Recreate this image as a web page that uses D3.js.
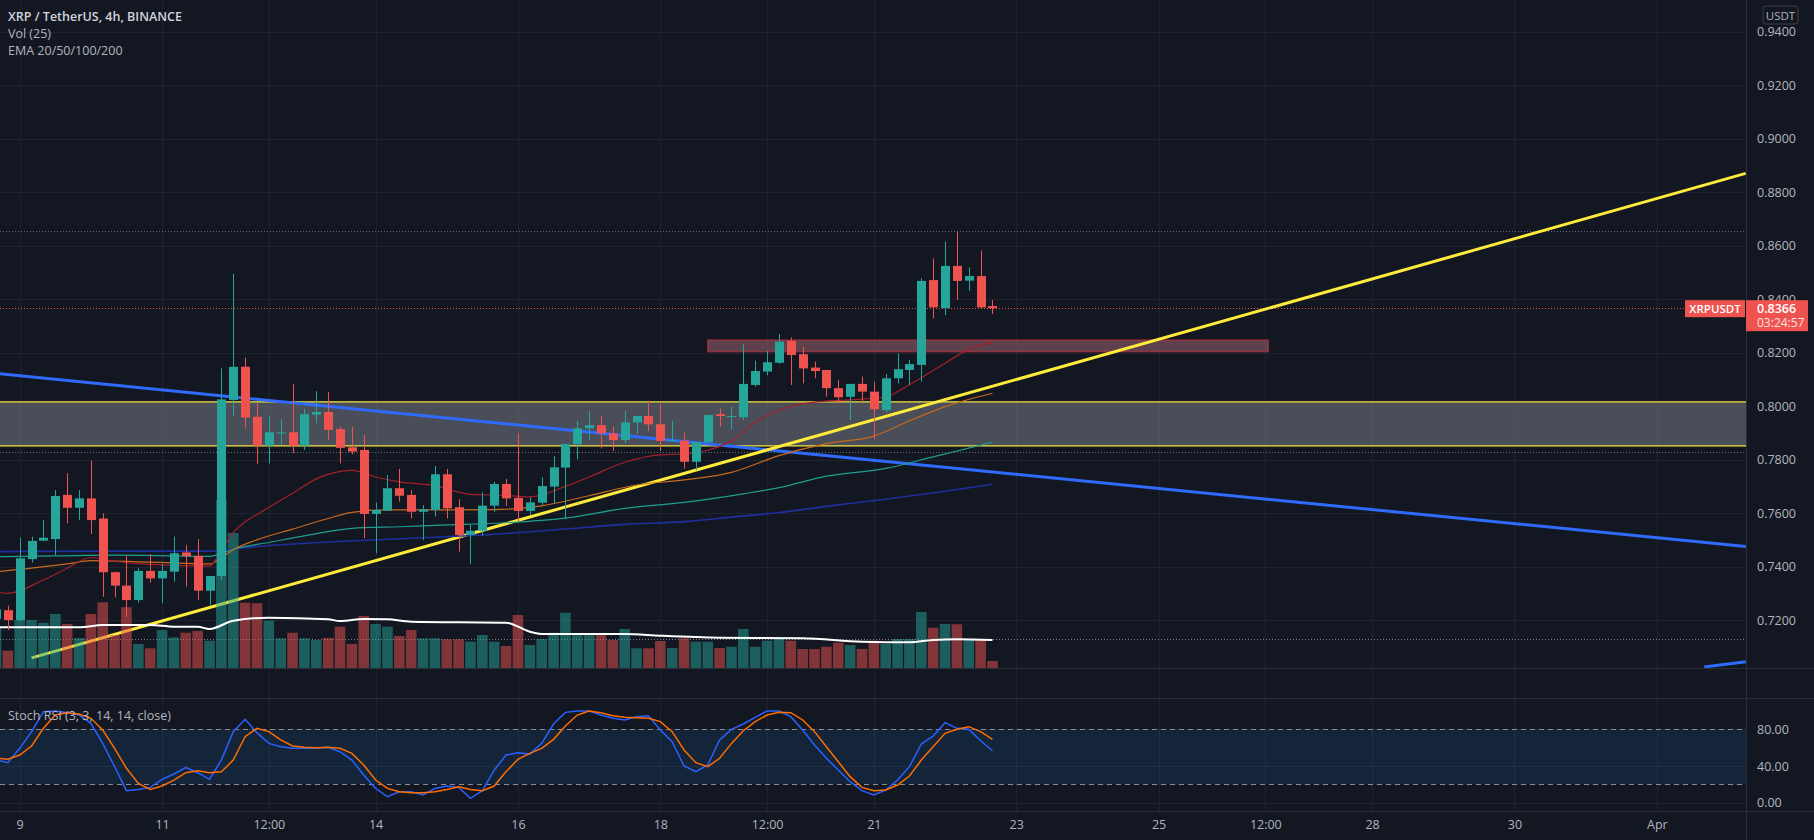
<!DOCTYPE html>
<html>
<head>
<meta charset="utf-8">
<script src="https://cdn.jsdelivr.net/npm/d3@7"></script>
<style>
  html, body { margin: 0; padding: 0; background: #131722; overflow: hidden; }
  svg { display: block; font-family: "Open Sans", sans-serif; }
</style>
</head>
<body>
<div id="chart"></div>
<script>
// ---- data (XRP/USDT 4h, first bar 2022-03-08 16:00 UTC) ----
const firstBar = '2022-03-08T16:00:00Z';
const opens  = [.7205,.7237,.7200,.7428,.7497,.7503,.7668,.7620,.7655,.7580,.7379,.7329,.7275,.7384,.7356,.7381,.7453,.7440,.7310,.7365,
  .8023,.8147,.7960,.7852,.7898,.7902,.7852,.7968,.7978,.7914,.7846,.7836,.7597,.7609,.7693,.7668,.7605,.7612,.7745,.7622,
  .7518,.7534,.7628,.7709,.7657,.7608,.7639,.7699,.7770,.7857,.7917,.7929,.7898,.7873,.7939,.7963,.7932,.7870,.7871,.7792,
  .7865,.7970,.7960,.7958,.8079,.8129,.8162,.8244,.8194,.8144,.8135,.8067,.8035,.8083,.8054,.7985,.8104,.8135,.8154,.8471,
  .8366,.8524,.8469,.8486,.8374];
const highs  = [.7250,.7254,.7508,.7512,.7574,.7686,.7749,.7686,.7796,.7599,.7382,.7441,.7394,.7447,.7410,.7512,.7481,.7503,.7365,.8141,
  .8494,.8181,.8010,.7963,.7951,.8082,.7989,.8056,.8052,.7923,.7923,.7892,.7639,.7742,.7765,.7686,.7630,.7776,.7765,.7652,
  .7556,.7678,.7717,.7728,.7898,.7659,.7734,.7813,.7858,.7944,.7982,.7963,.7923,.7983,.7963,.8020,.8008,.7945,.7901,.7866,
  .7967,.7992,.7998,.8232,.8170,.8206,.8270,.8257,.8222,.8166,.8135,.8098,.8083,.8110,.8091,.8120,.8197,.8172,.8478,.8552,
  .8615,.8655,.8519,.8581,.8397];
const lows   = [.7190,.7163,.7195,.7415,.7495,.7443,.7562,.7574,.7522,.7287,.7285,.7213,.7265,.7340,.7263,.7344,.7325,.7275,.7256,.7350,
  .7963,.7917,.7784,.7786,.7855,.7824,.7836,.7936,.7873,.7786,.7820,.7506,.7450,.7609,.7643,.7580,.7499,.7587,.7580,.7456,
  .7410,.7516,.7605,.7627,.7568,.7593,.7630,.7637,.7577,.7801,.7873,.7842,.7832,.7861,.7896,.7907,.7832,.7868,.7767,.7761,
  .7862,.7923,.7913,.7948,.8073,.8116,.8158,.8079,.8085,.8104,.8035,.8010,.7948,.8010,.7876,.7975,.8085,.8079,.8091,.8328,
  .8340,.8397,.8431,.8366,.8344];
const closes = [.7240,.7200,.7431,.7496,.7508,.7664,.7620,.7655,.7574,.7379,.7329,.7275,.7384,.7356,.7384,.7450,.7439,.7310,.7365,.8025,
  .8147,.7957,.7852,.7902,.7902,.7852,.7970,.7978,.7911,.7844,.7830,.7597,.7612,.7693,.7665,.7605,.7614,.7745,.7618,.7518,
  .7534,.7628,.7709,.7655,.7608,.7640,.7701,.7771,.7858,.7917,.7929,.7898,.7873,.7939,.7963,.7932,.7870,.7873,.7792,.7865,
  .7967,.7963,.7963,.8083,.8131,.8164,.8241,.8191,.8141,.8131,.8067,.8033,.8083,.8054,.7988,.8104,.8138,.8157,.8468,.8369,
  .8524,.8468,.8486,.8369,.8366];
const volumes = [40,17.3,48,48,45.3,54,44,30,54,65.7,33,60.7,24,19.7,38,30.7,35.3,37,27.3,168,
  135,65.3,64.7,47.3,29.7,35.3,29.7,28,30,41.3,24,52,44,41.3,32,38,29.7,29.7,28.7,28.7,
  26.3,33,26.3,22,53,23,29,35.3,55.3,33,33,33,28,39,19.7,19.7,27,20,29.7,26.3,
  26.3,20,21.3,39,21.3,27.3,29,27.3,19,19,21.3,25.3,23,19,27.3,24,29,29,56,40.3,
  44,43.7,29,29,7];
// [bar index, value]
const volMA  = [[0,40.7],[7,40.7],[9,43],[13,43],[15,41.3],[17,41.3],[18,39],[20,47.3],[23,50.3],[28,48.7],[29,47],[31,49],[33,48.7],
  [35,46.3],[43,45.3],[45,36.3],[46,34],[53,34],[56,32.3],[61,30.3],[68,29.7],[73,26.3],[77,25.7],[79,28],[81,28.7],[84,28]];
const ema20  = [[0,.7306],[1,.7300],[4,.7350],[6,.7394],[8,.7434],[10,.7420],[13,.7408],[18,.7402],[19,.7461],[20,.7527],[21,.7568],
  [22,.7595],[25,.7674],[27,.7728],[30,.7760],[32,.7735],[34,.7717],[37,.7703],[40,.7670],[43,.7666],[45,.7661],[48,.7700],[50,.7735],
  [53,.7790],[56,.7818],[58,.7821],[60,.7835],[62,.7870],[64,.7940],[66,.7985],[69,.8015],[72,.8023],[75,.8035],[77,.8080],[80,.8160],
  [82,.8212],[84,.8240]];
const ema50  = [[0,.7381],[3,.7394],[6,.7410],[8,.7422],[12,.7418],[15,.7414],[18,.7410],[19,.7433],[20,.7463],[22,.7500],[25,.7540],
  [28,.7580],[30,.7603],[33,.7612],[38,.7612],[42,.7613],[46,.7627],[50,.7665],[54,.7705],[58,.7724],[62,.7752],[66,.7815],[70,.7860],
  [74,.7888],[77,.7945],[80,.7998],[84,.8048]];
const ema100 = [[0,.7437],[5,.7440],[10,.7443],[15,.7440],[18,.7438],[19,.7450],[20,.7465],[23,.7490],[26,.7515],[30,.7543],[34,.7549],
  [38,.7556],[42,.7562],[48,.7581],[53,.7618],[58,.7640],[63,.7672],[66,.7695],[70,.7738],[75,.7767],[79,.7810],[84,.7865]];
const ema200 = [[0,.7456],[10,.7458],[18,.7458],[22,.7475],[28,.7492],[35,.7506],[41,.7518],[47,.7537],[53,.7558],[58,.7568],[62,.7585],
  [66,.7602],[70,.7625],[75,.7652],[80,.7682],[84,.7708]];
const stochK = [47,43.6,59.3,77.5,99.3,100,98,95.6,86.5,64.7,39.3,13.1,14.5,16.7,25.5,31.3,38.2,32.7,25.5,46.5,
  77.5,90.9,76.4,64.7,61.1,59.3,59.3,59.3,60.4,55.6,46.5,30.2,15.6,6.5,12,12,8.4,15.6,18.2,16.7,
  4.7,13.1,35.6,52,54.5,53,64.7,85.8,98.5,100,100,95.6,92,90.2,93.8,94.9,79.3,66.5,40,33.8,
  41.1,68.4,80,85.8,93.1,100,100,93.8,79.3,62.9,48.4,35.6,22.9,13.1,8.4,13.8,24.7,39.3,64,72.7,
  87.3,81.1,80,67.6,56.7];
const stochD = [48.8,47.3,52,61.8,81.1,95.6,98,96.7,92,79.3,59.3,37.5,21.1,14.5,18.2,24.7,32.7,34.9,32.7,33.8,
  46.5,72,81.1,77.5,68.4,61.8,60.4,60,60.4,59.3,53.8,41.1,24.7,15.6,12,10.9,10.9,12,14.5,17.5,
  14.5,13.1,18.2,34,47.3,53.8,59.3,69.1,83.6,95.6,100,98.2,94.9,93.1,92.7,92,88.4,77.5,57.5,43.6,
  39.3,48.4,64.7,78.5,88.4,95.6,98.5,98.2,90.2,77.5,61.1,44.7,28.4,16.7,13.1,13.8,19.3,29.1,46.5,61.1,
  75.6,80,82.9,77.5,69.1];

// drawings
const yellowTrend = [['2022-03-09T04:00:00Z', .7059], ['2022-04-02T06:00:00Z', .8870]];
const blueTrend   = [['2022-03-08T16:00:00Z', .8122], ['2022-04-02T06:00:00Z', .7475]];
const blueTrend2  = [['2022-04-01T16:00:00Z', .7025], ['2022-04-02T06:00:00Z', .7044]];
const grayZone = {from: '2022-03-01T00:00:00Z', to: '2022-04-05T00:00:00Z', top: .8016, bottom: .7851};
const redZone  = {from: '2022-03-18T16:00:00Z', to: '2022-03-26T13:00:00Z', top: .8247, bottom: .8203};
const dottedLevels = [[.8655, '#5b6a8a'], [.8366, '#ef5350'], [.7830, '#6a6d78'], [.7130, '#7d808a']];

const priceTicks = [.72,.74,.76,.78,.80,.82,.84,.86,.88,.90,.92,.94];
const stochTicks = [0, 40, 80];
const timeTicks = ['2022-03-09T00:00:00Z','2022-03-11T00:00:00Z','2022-03-12T12:00:00Z','2022-03-14T00:00:00Z','2022-03-16T00:00:00Z',
  '2022-03-18T00:00:00Z','2022-03-19T12:00:00Z','2022-03-21T00:00:00Z','2022-03-23T00:00:00Z','2022-03-25T00:00:00Z',
  '2022-03-26T12:00:00Z','2022-03-28T00:00:00Z','2022-03-30T00:00:00Z','2022-04-01T00:00:00Z'];
const timeLabels = ['9','11','12:00','14','16','18','12:00','21','23','25','12:00','28','30','Apr'];

// ---- layout ----
const W = 1814, H = 840;
const plotR = 1746, mainB = 668, emptyB = 698, stochB = 811;
const up = '#26a69a', down = '#ef5350';

const t0 = new Date(firstBar).getTime();
const barTime = i => new Date(t0 + i * 4 * 3600 * 1000);

const x = d3.scaleUtc()
  .domain([new Date('2022-03-09T00:00:00Z'), new Date('2022-04-01T00:00:00Z')])
  .range([19.7, 1656.8]);
const y = d3.scaleLinear().domain([0.7021, 0.9518]).range([mainB, 0]);
const yVol = d3.scaleLinear().domain([0, 400]).range([mainB, 268]);
const yS = d3.scaleLinear().domain([0, 100]).range([802.7, 711]);

const svg = d3.select('#chart').append('svg').attr('width', W).attr('height', H);
svg.append('rect').attr('width', W).attr('height', H).attr('fill', '#131722');

const defs = svg.append('defs');
defs.append('clipPath').attr('id', 'clipMain').append('rect').attr('x', 0).attr('y', 0).attr('width', plotR).attr('height', mainB);
defs.append('clipPath').attr('id', 'clipStoch').append('rect').attr('x', 0).attr('y', emptyB).attr('width', plotR).attr('height', stochB - emptyB);

// grid
const grid = svg.append('g').attr('stroke', '#1f2330').attr('stroke-width', 1);
grid.selectAll('.vg').data(timeTicks).join('line')
  .attr('x1', d => Math.round(x(new Date(d))) + 0.5).attr('x2', d => Math.round(x(new Date(d))) + 0.5)
  .attr('y1', 0).attr('y2', stochB);
grid.selectAll('.hg').data(priceTicks).join('line')
  .attr('x1', 0).attr('x2', plotR)
  .attr('y1', d => Math.round(y(d)) + 0.5).attr('y2', d => Math.round(y(d)) + 0.5);
grid.selectAll('.sg').data(stochTicks).join('line')
  .attr('x1', 0).attr('x2', plotR)
  .attr('y1', d => Math.round(yS(d)) + 0.5).attr('y2', d => Math.round(yS(d)) + 0.5);

// ---- main pane ----
const main = svg.append('g').attr('clip-path', 'url(#clipMain)');

// gray zone
main.append('rect')
  .attr('x', x(new Date(grayZone.from))).attr('width', x(new Date(grayZone.to)) - x(new Date(grayZone.from)))
  .attr('y', y(grayZone.top)).attr('height', y(grayZone.bottom) - y(grayZone.top))
  .attr('fill', 'rgba(120,123,134,0.55)');
[grayZone.top, grayZone.bottom].forEach(p => {
  main.append('line').attr('x1', 0).attr('x2', plotR).attr('y1', y(p)).attr('y2', y(p))
    .attr('stroke', '#f5e342').attr('stroke-width', 1.2);
});

// red zone
main.append('rect')
  .attr('x', x(new Date(redZone.from))).attr('width', x(new Date(redZone.to)) - x(new Date(redZone.from)))
  .attr('y', y(redZone.top)).attr('height', y(redZone.bottom) - y(redZone.top))
  .attr('fill', 'rgba(120,80,92,0.75)').attr('stroke', '#b5313c').attr('stroke-width', 1);

// dotted levels
main.selectAll('.lvl').data(dottedLevels).join('line')
  .attr('x1', 0).attr('x2', plotR)
  .attr('y1', d => Math.round(y(d[0])) + 0.5).attr('y2', d => Math.round(y(d[0])) + 0.5)
  .attr('stroke', d => d[1]).attr('stroke-dasharray', '1,2').attr('stroke-width', 1);

// trend lines
const trend = d3.line().x(d => x(new Date(d[0]))).y(d => y(d[1]));
main.append('path').attr('d', trend(blueTrend)).attr('stroke', '#2f6bff').attr('stroke-width', 3).attr('fill', 'none');
main.append('path').attr('d', trend(blueTrend2)).attr('stroke', '#2f6bff').attr('stroke-width', 3).attr('fill', 'none');
main.append('path').attr('d', trend(yellowTrend)).attr('stroke', '#ffeb3b').attr('stroke-width', 3).attr('fill', 'none');

// volume
const bw = 10.6;
main.selectAll('.vol').data(volumes).join('rect')
  .attr('x', (d, i) => x(barTime(i)) - bw / 2).attr('width', bw)
  .attr('y', d => yVol(d)).attr('height', d => mainB - yVol(d))
  .attr('fill', (d, i) => closes[i] >= opens[i] ? 'rgba(38,166,154,0.5)' : 'rgba(239,83,80,0.5)');

const pairLine = (yy) => d3.line().x(d => x(barTime(d[0]))).y(d => yy(d[1])).curve(d3.curveMonotoneX);
main.append('path').attr('d', pairLine(yVol)(volMA)).attr('stroke', '#ffffff').attr('stroke-width', 2).attr('fill', 'none');

// EMAs
[[ema200, '#1f2f9e', 1.6], [ema100, '#1f9e90', 1.2], [ema50, '#c8691c', 1.2], [ema20, '#a3202b', 1.2]].forEach(([s, c, w]) => {
  main.append('path').attr('d', pairLine(y)(s)).attr('stroke', c).attr('stroke-width', w).attr('fill', 'none');
});

// candles
const cw = 9;
const candles = main.selectAll('.candle').data(opens).join('g');
candles.append('line')
  .attr('x1', (d, i) => Math.round(x(barTime(i))) + 0.5).attr('x2', (d, i) => Math.round(x(barTime(i))) + 0.5)
  .attr('y1', (d, i) => y(highs[i])).attr('y2', (d, i) => y(lows[i]))
  .attr('stroke', (d, i) => closes[i] >= opens[i] ? up : down).attr('stroke-width', 1);
candles.append('rect')
  .attr('x', (d, i) => Math.round(x(barTime(i))) + 0.5 - cw / 2).attr('width', cw)
  .attr('y', (d, i) => y(Math.max(opens[i], closes[i])))
  .attr('height', (d, i) => Math.max(1, Math.abs(y(opens[i]) - y(closes[i]))))
  .attr('fill', (d, i) => closes[i] >= opens[i] ? up : down);

// ---- stoch pane ----
const st = svg.append('g').attr('clip-path', 'url(#clipStoch)');
st.append('rect').attr('x', 0).attr('width', plotR).attr('y', yS(80)).attr('height', yS(20) - yS(80))
  .attr('fill', 'rgba(33,150,243,0.11)');
[80, 20].forEach(v => {
  st.append('line').attr('x1', 0).attr('x2', plotR).attr('y1', Math.round(yS(v)) + 0.5).attr('y2', Math.round(yS(v)) + 0.5)
    .attr('stroke', '#8a8d96').attr('stroke-dasharray', '5,4').attr('stroke-width', 1);
});
const sLine = d3.line().x((d, i) => x(barTime(i))).y(d => yS(d));
st.append('path').attr('d', sLine(stochK)).attr('stroke', '#2962ff').attr('stroke-width', 1.5).attr('fill', 'none');
st.append('path').attr('d', sLine(stochD)).attr('stroke', '#ff6d00').attr('stroke-width', 1.5).attr('fill', 'none');

// separators
const sep = svg.append('g').attr('stroke', '#2a2e39').attr('stroke-width', 1);
[mainB, emptyB, stochB].forEach(v => sep.append('line').attr('x1', 0).attr('x2', W).attr('y1', v + 0.5).attr('y2', v + 0.5));
sep.append('line').attr('x1', plotR + 0.5).attr('x2', plotR + 0.5).attr('y1', 0).attr('y2', H);

// ---- axes ----
const styleAxis = g => {
  g.select('.domain').remove();
  g.selectAll('line').remove();
  g.selectAll('text').attr('fill', '#b2b5be').style('font-size', '12.5px').style('font-family', '"Open Sans", sans-serif');
};
svg.append('g').attr('transform', `translate(${plotR},0)`)
  .call(d3.axisRight(y).tickValues(priceTicks).tickFormat(d3.format('.4f')).tickSize(0).tickPadding(11))
  .call(styleAxis);
svg.append('g').attr('transform', `translate(${plotR},0)`)
  .call(d3.axisRight(yS).tickValues(stochTicks).tickFormat(d3.format('.2f')).tickSize(0).tickPadding(11))
  .call(styleAxis);
svg.append('g').attr('transform', `translate(0,${stochB})`)
  .call(d3.axisBottom(x).tickValues(timeTicks.map(d => new Date(d))).tickFormat((d, i) => timeLabels[i]).tickSize(0).tickPadding(9))
  .call(styleAxis);

// USDT box
svg.append('rect').attr('x', 1763).attr('y', 6).attr('width', 35).attr('height', 18).attr('rx', 3)
  .attr('fill', '#131722').attr('stroke', '#3a3e4a');
svg.append('text').attr('x', 1780.5).attr('y', 19.5).attr('text-anchor', 'middle').attr('fill', '#b2b5be')
  .style('font-size', '11.5px').text('USDT');

// last price labels
const lastY = y(closes[closes.length - 1]);
svg.append('rect').attr('x', 1685).attr('y', lastY - 8).attr('width', 60).attr('height', 17).attr('fill', down);
svg.append('text').attr('x', 1715).attr('y', lastY + 4.5).attr('text-anchor', 'middle').attr('fill', '#fff')
  .style('font-size', '11.5px').style('font-weight', 600).text('XRPUSDT');
svg.append('rect').attr('x', plotR).attr('y', lastY - 8).attr('width', 62).attr('height', 31).attr('fill', down);
svg.append('text').attr('x', 1757).attr('y', lastY + 4.5).attr('fill', '#fff')
  .style('font-size', '12.5px').style('font-weight', 600).text(d3.format('.4f')(closes[closes.length - 1]));
svg.append('text').attr('x', 1757).attr('y', lastY + 19).attr('fill', '#fde0e0')
  .style('font-size', '12px').text('03:24:57');

// legends
const leg = svg.append('g').style('font-size', '12.5px');
leg.append('text').attr('x', 8).attr('y', 20.5).attr('fill', '#d1d4dc').style('font-weight', 600).text('XRP / TetherUS, 4h, BINANCE');
leg.append('text').attr('x', 8).attr('y', 37.5).attr('fill', '#b2b5be').text('Vol (25)');
leg.append('text').attr('x', 8).attr('y', 54.5).attr('fill', '#b2b5be').text('EMA 20/50/100/200');
leg.append('text').attr('x', 8).attr('y', 719.5).attr('fill', '#b2b5be').text('Stoch RSI (3, 3, 14, 14, close)');
</script>
</body>
</html>
